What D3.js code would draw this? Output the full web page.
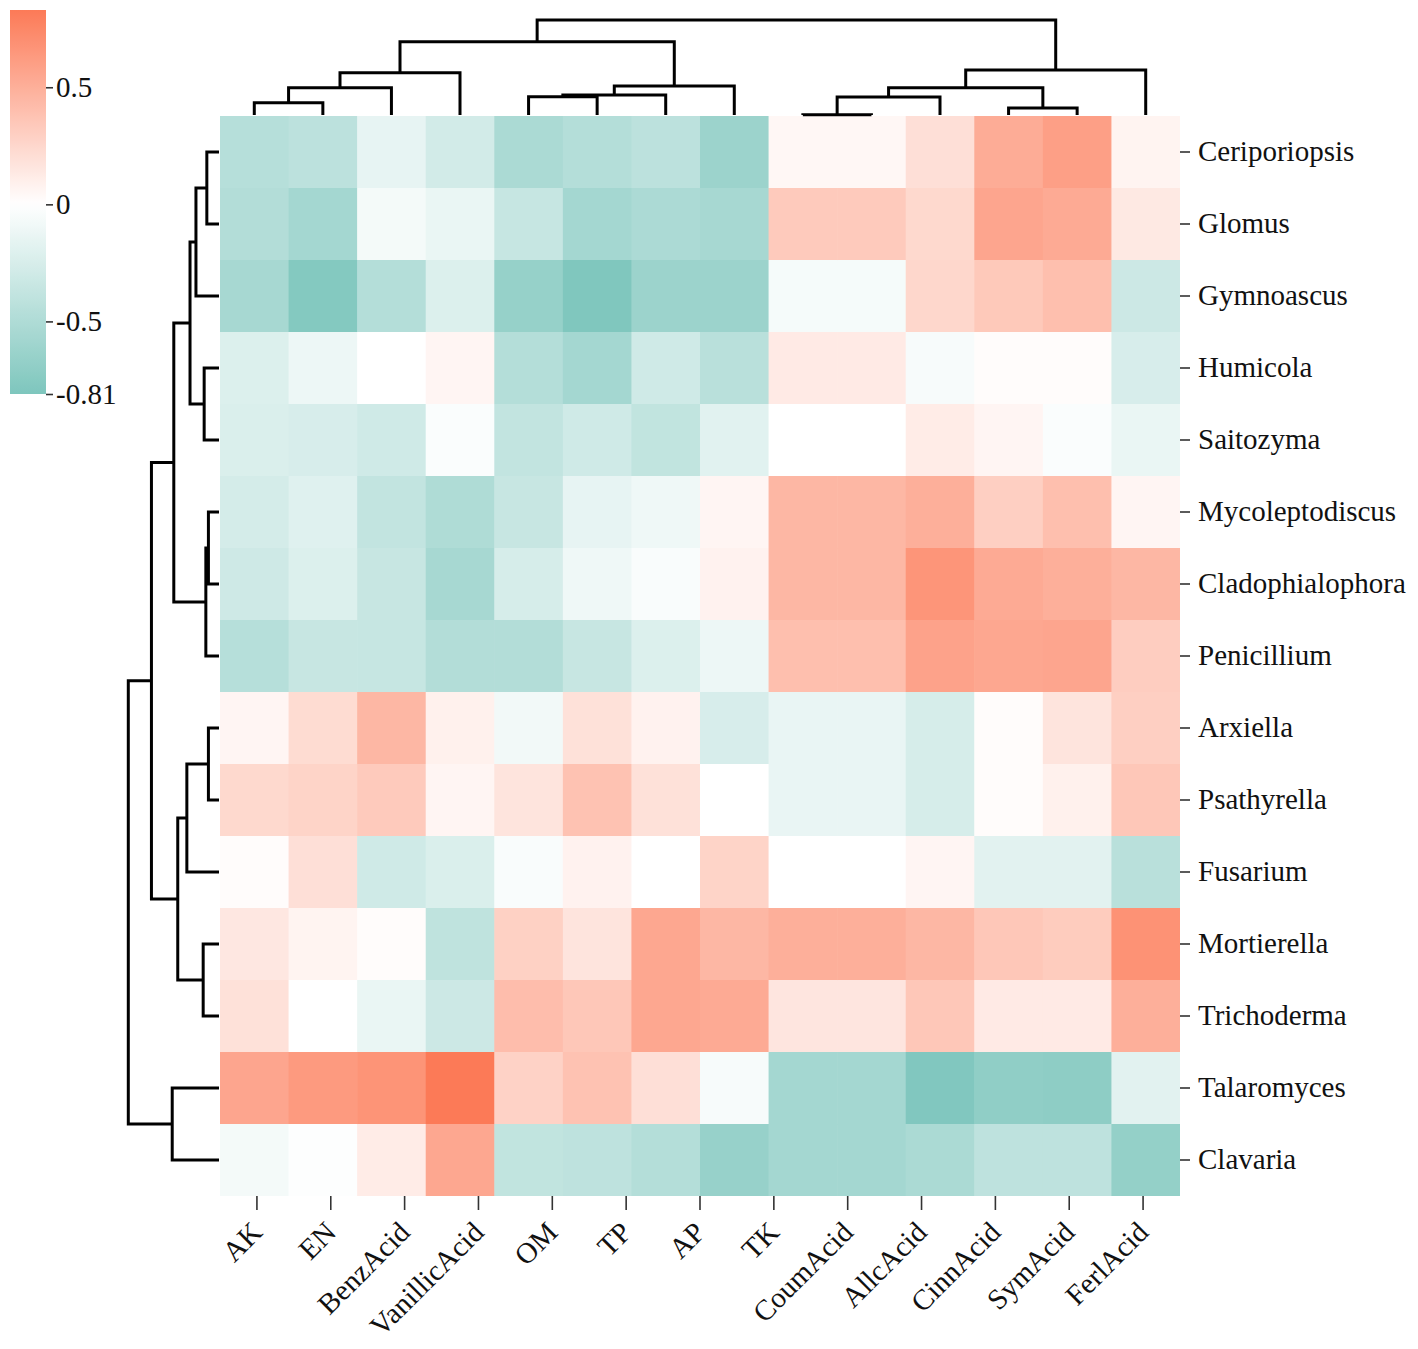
<!DOCTYPE html>
<html><head><meta charset="utf-8">
<script src="https://cdn.jsdelivr.net/npm/d3@7"></script>
<style>body{margin:0;background:#fff}</style>
</head><body><svg id="c" width="1418" height="1349"></svg>
<script>
// ---------------- data ----------------
const rowNames = ["Ceriporiopsis","Glomus","Gymnoascus","Humicola","Saitozyma","Mycoleptodiscus","Cladophialophora","Penicillium","Arxiella","Psathyrella","Fusarium","Mortierella","Trichoderma","Talaromyces","Clavaria"];
const colKeys = ["AK","EN","BenzAcid","VanillicAcid","OM","TP","AP","TK","CoumAcid","CoumAcid_2","AllcAcid","CinnAcid","SymAcid","FerlAcid"];
const colTickLabels = ["AK","EN","BenzAcid","VanillicAcid","OM","TP","AP","TK","CoumAcid","AllcAcid","CinnAcid","SymAcid","FerlAcid"];
const values = [
  [-0.46,-0.42,-0.15,-0.28,-0.53,-0.47,-0.42,-0.62, 0.05, 0.05, 0.20, 0.52, 0.60, 0.07],
  [-0.48,-0.57,-0.07,-0.13,-0.36,-0.57,-0.52,-0.55, 0.33, 0.33, 0.24, 0.56, 0.53, 0.14],
  [-0.55,-0.77,-0.47,-0.22,-0.66,-0.80,-0.62,-0.62,-0.06,-0.06, 0.25, 0.34, 0.40,-0.32],
  [-0.22,-0.11, 0.00, 0.06,-0.47,-0.57,-0.30,-0.44, 0.13, 0.13,-0.05, 0.02, 0.02,-0.25],
  [-0.23,-0.25,-0.30,-0.03,-0.38,-0.30,-0.39,-0.19, 0.00, 0.00, 0.12, 0.06,-0.03,-0.13],
  [-0.27,-0.20,-0.38,-0.50,-0.35,-0.15,-0.10, 0.06, 0.45, 0.45, 0.50, 0.30, 0.40, 0.06],
  [-0.31,-0.22,-0.35,-0.55,-0.26,-0.10,-0.04, 0.08, 0.45, 0.45, 0.66, 0.53, 0.50, 0.45],
  [-0.46,-0.35,-0.36,-0.48,-0.48,-0.35,-0.22,-0.11, 0.40, 0.40, 0.58, 0.55, 0.56, 0.31],
  [ 0.06, 0.22, 0.45, 0.09,-0.08, 0.19, 0.08,-0.25,-0.14,-0.14,-0.26, 0.02, 0.17, 0.30],
  [ 0.24, 0.27, 0.33, 0.06, 0.17, 0.38, 0.19, 0.00,-0.14,-0.14,-0.26, 0.02, 0.09, 0.35],
  [ 0.02, 0.20,-0.30,-0.23,-0.04, 0.08, 0.00, 0.27, 0.00, 0.00, 0.06,-0.18,-0.18,-0.44],
  [ 0.15, 0.07, 0.02,-0.40, 0.29, 0.17, 0.55, 0.45, 0.50, 0.50, 0.45, 0.35, 0.32, 0.68],
  [ 0.19, 0.00,-0.13,-0.32, 0.41, 0.35, 0.55, 0.53, 0.16, 0.16, 0.35, 0.13, 0.13, 0.50],
  [ 0.56, 0.63, 0.67, 0.83, 0.28, 0.38, 0.20,-0.05,-0.57,-0.57,-0.79,-0.70,-0.71,-0.18],
  [-0.07,-0.01, 0.12, 0.55,-0.39,-0.41,-0.47,-0.65,-0.57,-0.57,-0.53,-0.41,-0.41,-0.67]
];
// linkage: [childA, childB, distance]; ids < n are leaves (display order)
const rowLinkage = [
  [0,1,0.246],[15,2,0.466],[3,4,0.30],[16,17,0.586],[5,6,0.214],[19,7,0.266],
  [18,20,0.914],[8,9,0.214],[22,10,0.65],[11,12,0.32],[23,24,0.834],[21,25,1.366],
  [13,14,0.946],[26,27,1.834]
];
const colLinkage = [
  [0,1,0.246],[14,2,0.546],[15,3,0.846],[4,5,0.366],[17,6,0.40],[18,7,0.58],
  [16,19,1.466],[8,9,0.006],[21,10,0.36],[11,12,0.14],[22,23,0.546],[24,13,0.90],
  [20,25,1.90]
];
const vmin = -0.81, vmax = 0.83;
const cmapColors = ["#7ec6bd","#ffffff","#fc7a57"];
const cbTicks = [0.5, 0, -0.5, -0.81];
const cbTickLabels = ["0.5","0","-0.5","-0.81"];

// ---------------- drawing ----------------
const svg = d3.select("#c");
const font = "'Liberation Serif','Times New Roman',serif";
svg.append("rect").attr("width",1418).attr("height",1349).attr("fill","#fff");

const hm = {x0:220, x1:1180, y0:116, y1:1196};
const x = d3.scaleBand().domain(colKeys).range([hm.x0, hm.x1]);
const y = d3.scaleBand().domain(rowNames).range([hm.y0, hm.y1]);
const color = d3.scaleLinear().domain([vmin,0,vmax]).range(cmapColors).clamp(true);

const cells = rowNames.flatMap((r,i) => colKeys.map((c,j) => ({r, c, v: values[i][j]})));
svg.append("g").selectAll("rect").data(cells).join("rect")
  .attr("x", d => x(d.c)).attr("y", d => y(d.r))
  .attr("width", d => x.bandwidth() + (d.c === colKeys[colKeys.length-1] ? 0 : 0.6))
  .attr("height", d => y.bandwidth() + (d.r === rowNames[rowNames.length-1] ? 0 : 0.6))
  .attr("fill", d => color(d.v));

// row axis (right)
const ra = svg.append("g").attr("transform", `translate(${hm.x1},0)`)
  .call(d3.axisRight(y).tickSize(10).tickPadding(8));
ra.select(".domain").remove();
ra.selectAll("line").attr("stroke","#333").attr("stroke-width",1.6);
ra.selectAll("text").attr("font-family",font).attr("font-size",29).attr("fill","#111");

// column axis (bottom) with tick labels
const xt = d3.scaleBand().domain(colTickLabels).range([hm.x0, hm.x1]);
const ba = svg.append("g").attr("transform", `translate(0,${hm.y1})`)
  .call(d3.axisBottom(xt).tickSize(14));
ba.select(".domain").remove();
ba.selectAll("line").attr("stroke","#333").attr("stroke-width",1.6);
ba.selectAll("text")
  .attr("font-family",font).attr("font-size",29).attr("fill","#111")
  .attr("x",7).attr("y",38).attr("dy",0)
  .attr("text-anchor","end")
  .attr("transform","rotate(-45,7,38)");

// dendrograms
function dendroSegs(linkage, leafPos){
  const n = leafPos.length;
  const pos = leafPos.slice(), h = new Array(n).fill(0), segs = [];
  linkage.forEach(([a,b,d],k) => {
    const id = n + k;
    pos[id] = (pos[a] + pos[b]) / 2; h[id] = d;
    segs.push([[pos[a],h[a]],[pos[a],d],[pos[b],d],[pos[b],h[b]]]);
  });
  return segs;
}
const colH = d3.scaleLinear().domain([0,1.90]).range([115,20]);
const rowH = d3.scaleLinear().domain([0,1.834]).range([219,128.3]);
const colSegs = dendroSegs(colLinkage, colKeys.map(c => x(c) + x.bandwidth()/2));
const rowSegs = dendroSegs(rowLinkage, rowNames.map(r => y(r) + y.bandwidth()/2));
const lineTop = d3.line().x(p => p[0]).y(p => colH(p[1]));
const lineLeft = d3.line().x(p => rowH(p[1])).y(p => p[0]);
svg.append("g").selectAll("path").data(colSegs).join("path")
  .attr("d", lineTop).attr("fill","none").attr("stroke","#000").attr("stroke-width",3);
svg.append("g").selectAll("path").data(rowSegs).join("path")
  .attr("d", lineLeft).attr("fill","none").attr("stroke","#000").attr("stroke-width",3);

// colorbar
const cb = {x:10, w:36, top:10, bottom:394};
const cs = d3.scaleLinear().domain([vmin, vmax]).range([cb.bottom, cb.top]);
const grad = svg.append("defs").append("linearGradient").attr("id","cbg")
  .attr("x1",0).attr("y1",0).attr("x2",0).attr("y2",1);
d3.range(0, 1.0001, 0.02).forEach(t => {
  const v = vmax - t * (vmax - vmin);
  grad.append("stop").attr("offset", t).attr("stop-color", color(v));
});
svg.append("rect").attr("x",cb.x).attr("y",cb.top).attr("width",cb.w)
  .attr("height",cb.bottom-cb.top).attr("fill","url(#cbg)");
const ca = svg.append("g").attr("transform",`translate(${cb.x+cb.w},0)`)
  .call(d3.axisRight(cs).tickValues(cbTicks).tickFormat((d,i) => cbTickLabels[i]).tickSize(7).tickPadding(3));
ca.select(".domain").remove();
ca.selectAll("line").attr("stroke","#333").attr("stroke-width",1.6);
ca.selectAll("text").attr("font-family",font).attr("font-size",29).attr("fill","#111");
</script>
</body></html>
